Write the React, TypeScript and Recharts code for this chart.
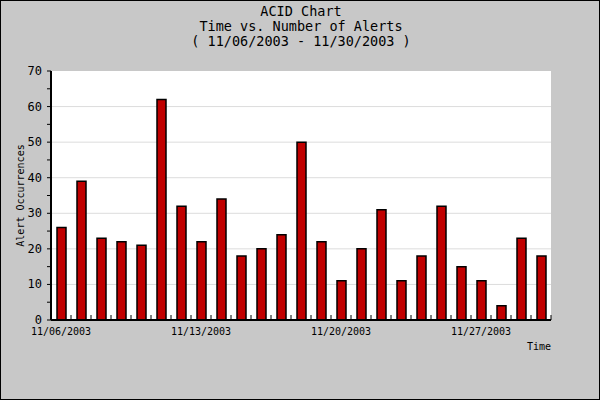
import React from "react";
import { BarChart, Bar, XAxis, YAxis, CartesianGrid } from "recharts";

const dates = [
  "11/06/2003", "11/07/2003", "11/08/2003", "11/09/2003", "11/10/2003",
  "11/11/2003", "11/12/2003", "11/13/2003", "11/14/2003", "11/15/2003",
  "11/16/2003", "11/17/2003", "11/18/2003", "11/19/2003", "11/20/2003",
  "11/21/2003", "11/22/2003", "11/23/2003", "11/24/2003", "11/25/2003",
  "11/26/2003", "11/27/2003", "11/28/2003", "11/29/2003", "11/30/2003",
];
const alerts = [26, 39, 23, 22, 21, 62, 32, 22, 34, 18, 20, 24, 50, 22, 11, 20, 31, 11, 18, 32, 15, 11, 4, 23, 18];
const yTicks = [0, 5, 10, 15, 20, 25, 30, 35, 40, 45, 50, 55, 60, 65, 70];
const gridValues = [10, 20, 30, 40, 50, 60];
const titleLines = ["ACID Chart", "Time vs. Number of Alerts", "( 11/06/2003 - 11/30/2003 )"];

const data = dates.map((d, i) => ({ date: d, alerts: alerts[i] }));

const FONT = "'DejaVu Sans Mono', monospace";

const XTick = (props: any) => {
  const { x, y, payload } = props;
  const off = payload && typeof payload.offset === "number" ? payload.offset : 10;
  const idx = payload.index;
  return (
    <g>
      <line x1={x + off} y1={y} x2={x + off} y2={y - 5} stroke="#000" strokeWidth={1} />
      {idx % 7 === 0 ? (
        <text x={x} y={y + 15} textAnchor="middle" fontFamily={FONT} fontSize={10} fill="#000">
          {payload.value}
        </text>
      ) : null}
    </g>
  );
};

const YTick = (props: any) => {
  const { x, y, payload } = props;
  if (payload.value % 10 !== 0) return <g />;
  return (
    <text x={x} y={y + 4} textAnchor="end" fontFamily={FONT} fontSize={12} fill="#000">
      {payload.value}
    </text>
  );
};

const YLabel = (props: any) => {
  const vb = props.viewBox || {};
  const cx = (vb.x || 0) + 20;
  const cy = (vb.y || 0) + (vb.height || 0) / 2;
  return (
    <text
      x={cx}
      y={cy}
      transform={`rotate(-90 ${cx} ${cy})`}
      textAnchor="middle"
      dominantBaseline="central"
      fontFamily={FONT}
      fontSize={10}
      fill="#000"
    >
      Alert Occurrences
    </text>
  );
};

export default function App() {
  return (
    <div
      style={{
        position: "absolute",
        left: 0,
        top: 0,
        width: 600,
        height: 400,
        background: "#c8c8c8",
        border: "1px solid #000",
        boxSizing: "border-box",
        fontFamily: FONT,
      }}
    >
      <div
        style={{
          position: "absolute",
          left: 0,
          top: 3,
          width: 600,
          textAlign: "center",
          fontSize: 13.5,
          lineHeight: "15px",
          color: "#000",
          whiteSpace: "pre",
        }}
      >
        {titleLines.map((t) => (
          <div key={t}>{t}</div>
        ))}
      </div>
      <div style={{ position: "absolute", left: -1, top: -1 }}>
        <BarChart
          width={600}
          height={400}
          data={data}
          margin={{ top: 71, right: 49, left: 0, bottom: 0 }}
        >
          <CartesianGrid
            fill="#ffffff"
            stroke="#dcdcdc"
            vertical={false}
            horizontalValues={gridValues}
          />
          <XAxis
            dataKey="date"
            interval={0}
            tickLine={false}
            tickSize={0}
            tickMargin={0}
            height={80}
            axisLine={{ stroke: "#000", strokeWidth: 2 }}
            tick={<XTick />}
            label={{
              value: "Time",
              position: "insideTopRight",
              offset: 0,
              dy: 23,
              fontFamily: FONT,
              fontSize: 10,
              fill: "#000",
            }}
          />
          <YAxis
            domain={[0, 70]}
            ticks={yTicks}
            interval={0}
            width={51}
            tickSize={4}
            tickMargin={5}
            axisLine={{ stroke: "#000", strokeWidth: 2 }}
            tickLine={{ stroke: "#000" }}
            tick={<YTick />}
            label={<YLabel />}
          />
          <Bar
            dataKey="alerts"
            fill="#c00000"
            stroke="#000"
            strokeWidth={1.5}
            barSize={9}
            isAnimationActive={false}
          />
        </BarChart>
      </div>
    </div>
  );
}
